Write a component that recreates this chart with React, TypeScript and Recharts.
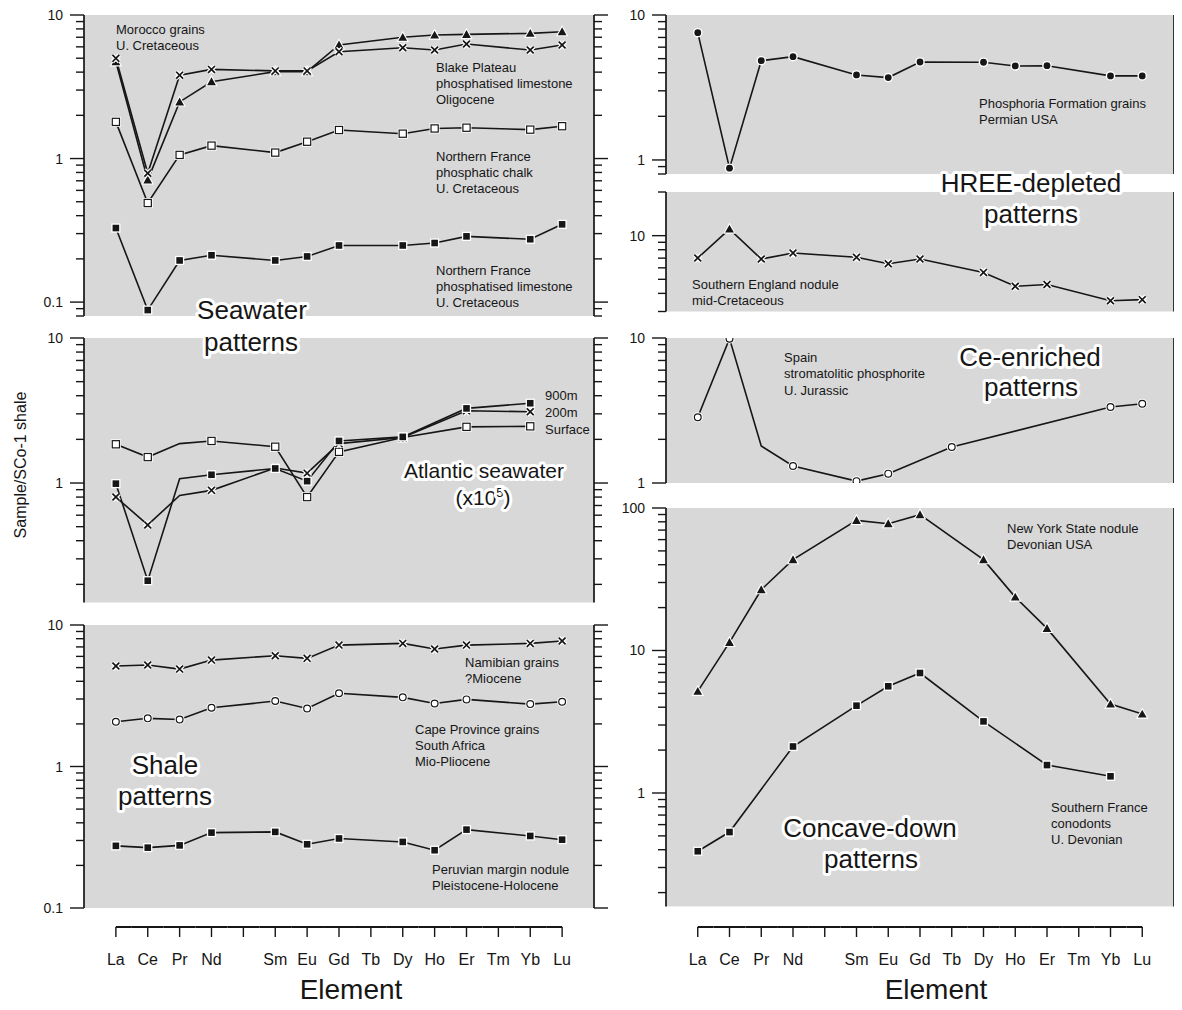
import React from 'react';
import { ComposedChart, Line, XAxis, YAxis, CartesianGrid } from 'recharts';

// ---------- categories ----------
const ELEMENTS = ['La', 'Ce', 'Pr', 'Nd', 'Pm', 'Sm', 'Eu', 'Gd', 'Tb', 'Dy', 'Ho', 'Er', 'Tm', 'Yb', 'Lu'];
const BLANK_TICK = 'Pm';

// ---------- Left column, panel 1 (seawater patterns) ----------
const blakePlateau = [4.72, 0.71, 2.48, 3.43, null, 4.03, 4.03, 6.18, null, 6.99, 7.25, 7.33, null, 7.45, 7.65];
const moroccoGrains = [4.99, 0.79, 3.81, 4.18, null, 4.08, 4.08, 5.55, null, 5.92, 5.7, 6.28, null, 5.7, 6.18];
const nFranceChalk = [1.8, 0.49, 1.06, 1.23, null, 1.1, 1.31, 1.58, null, 1.49, 1.62, 1.64, null, 1.59, 1.68];
const nFranceLimestone = [0.328, 0.088, 0.195, 0.212, null, 0.195, 0.208, 0.248, null, 0.248, 0.258, 0.287, null, 0.274, 0.348];

// ---------- Left column, panel 2 (Atlantic seawater x10^5) ----------
const atlanticSurface = [1.85, 1.51, 1.87, 1.95, null, 1.78, 0.8, 1.64, null, 2.06, null, 2.44, null, 2.46, null];
const atlantic200m = [0.8, 0.514, 0.82, 0.89, null, 1.27, 1.17, 1.87, null, 2.06, null, 3.15, null, 3.1, null];
const atlantic900m = [0.99, 0.212, 1.07, 1.14, null, 1.26, 1.03, 1.95, null, 2.08, null, 3.27, null, 3.55, null];

// ---------- Left column, panel 3 (shale patterns) ----------
const namibianGrains = [5.13, 5.21, 4.88, 5.65, null, 6.07, 5.81, 7.21, null, 7.41, 6.76, 7.21, null, 7.41, 7.71];
const capeProvince = [2.07, 2.19, 2.15, 2.6, null, 2.9, 2.57, 3.29, null, 3.08, 2.79, 2.98, null, 2.76, 2.87];
const peruvianNodule = [0.275, 0.267, 0.277, 0.341, null, 0.345, 0.282, 0.31, null, 0.293, 0.256, 0.358, null, 0.323, 0.304];

// ---------- Right column ----------
const phosphoria = [7.55, 0.877, 4.84, 5.16, null, 3.86, 3.7, 4.74, null, 4.72, 4.45, 4.47, null, 3.8, 3.8];
const southernEngland = [7.01, 11.1, 6.9, 7.59, null, 7.09, 6.41, 6.9, null, 5.58, 4.48, 4.6, null, 3.56, 3.62];
const spainStromatolitic = [2.84, 9.9, 1.8, 1.31, null, 1.03, 1.16, null, 1.77, null, null, null, null, 3.34, 3.52];
const newYorkNodule = [5.17, 11.4, 26.7, 43.4, null, 81.9, 77.6, 89.8, null, 43.4, 23.7, 14.3, null, 4.21, 3.58];
const southernFrance = [0.39, 0.532, null, 2.12, null, 4.1, 5.61, 6.95, null, 3.18, null, 1.57, null, 1.31, null];

// ---------- styling ----------
const FONT = '"Liberation Sans", Arial, Helvetica, sans-serif';
const INK = '#161616';
const PANEL_FILL = '#d8d8d8';

function logTicks(lo: number, hi: number): number[] {
  const out: number[] = [];
  for (let e = Math.floor(Math.log10(lo)) - 1; e <= Math.ceil(Math.log10(hi)); e++) {
    for (let m = 1; m <= 9; m++) {
      const v = Number((m * Math.pow(10, e)).toPrecision(6));
      if (v >= lo - 1e-12 && v <= hi + 1e-12) out.push(v);
    }
  }
  return out;
}
const isMajor = (v: number) => Math.abs(Math.log10(v) - Math.round(Math.log10(v))) < 1e-6;

function YTick(props: any) {
  const { x, y, payload, side } = props;
  const v = payload.value as number;
  const major = isMajor(v);
  const len = major ? 14 : 8;
  const dir = side === 'left' ? -1 : 1;
  return (
    <g>
      <line x1={x} x2={x + dir * len} y1={y} y2={y} stroke={INK} strokeWidth={1.4} />
      {major && side === 'left' ? (
        <text x={x - len - 7} y={y + 5} textAnchor="end" fontSize={14} fontFamily={FONT} fill={INK}>
          {String(v)}
        </text>
      ) : null}
    </g>
  );
}

function XTick(props: any) {
  const { x, y, payload, offset, step } = props;
  const i = payload.value as number;
  const yl = y + offset;
  const last = ELEMENTS.length - 1;
  const name = ELEMENTS[i];
  return (
    <g>
      <line x1={i === 0 ? x : x - step / 2} x2={i === last ? x : x + step / 2} y1={yl} y2={yl} stroke={INK} strokeWidth={2} />
      <line x1={x} x2={x} y1={yl} y2={yl + 10} stroke={INK} strokeWidth={1.4} />
      {name !== BLANK_TICK ? (
        <text x={x} y={yl + 38} textAnchor="middle" fontSize={16} fontFamily={FONT} fill={INK}>
          {name}
        </text>
      ) : null}
    </g>
  );
}

function Marker({ shape, cx, cy }: { shape: string; cx: number; cy: number }) {
  switch (shape) {
    case 'fsquare':
      return (
        <g>
          <rect x={cx - 4.6} y={cy - 4.6} width={9.2} height={9.2} fill="#fff" />
          <rect x={cx - 3.3} y={cy - 3.3} width={6.6} height={6.6} fill={INK} />
        </g>
      );
    case 'osquare':
      return (
        <g>
          <rect x={cx - 5} y={cy - 5} width={10} height={10} fill="#fff" />
          <rect x={cx - 3.6} y={cy - 3.6} width={7.2} height={7.2} fill="#fff" stroke={INK} strokeWidth={1.2} />
        </g>
      );
    case 'triangle': {
      const h = 4.4;
      const pts = `${cx},${cy - h} ${cx + h},${cy + h * 0.8} ${cx - h},${cy + h * 0.8}`;
      return <polygon points={pts} fill={INK} stroke="#fff" strokeWidth={2.2} style={{ paintOrder: 'stroke' }} />;
    }
    case 'x': {
      const s = 3.4;
      const d = `M${cx - s},${cy - s}L${cx + s},${cy + s}M${cx - s},${cy + s}L${cx + s},${cy - s}`;
      return (
        <g>
          <path d={d} stroke="#fff" strokeWidth={4.2} fill="none" />
          <path d={d} stroke={INK} strokeWidth={1.7} fill="none" />
        </g>
      );
    }
    case 'ocircle':
      return (
        <g>
          <circle cx={cx} cy={cy} r={5} fill="#fff" />
          <circle cx={cx} cy={cy} r={3.4} fill="#fff" stroke={INK} strokeWidth={1.2} />
        </g>
      );
    case 'fcircle':
      return (
        <g>
          <circle cx={cx} cy={cy} r={4.8} fill="#fff" />
          <circle cx={cx} cy={cy} r={3.4} fill={INK} />
        </g>
      );
    default:
      return <g />;
  }
}

type SeriesDef = { key: string; values: (number | null)[]; marker: string; overrides?: Record<number, string> };

const makeDot = (s: SeriesDef) => (p: any) => {
  const { cx, cy, index } = p;
  const k = `${s.key}-${index}`;
  const v = s.values[index];
  if (cx == null || cy == null || v == null) return <g key={k} />;
  const shape = (s.overrides && s.overrides[index]) || s.marker;
  return <Marker key={k} shape={shape} cx={cx} cy={cy} />;
};

type PanelProps = {
  plotLeft: number;
  plotTop: number;
  plotW: number;
  plotH: number;
  leftW: number;
  rightW: number;
  domain: [number, number];
  series: SeriesDef[];
  xAxisY?: number;
};

function Panel({ plotLeft, plotTop, plotW, plotH, leftW, rightW, domain, series, xAxisY }: PanelProps) {
  const data = ELEMENTS.map((el, i) => {
    const row: any = { i, el };
    series.forEach((s) => {
      row[s.key] = s.values[i];
    });
    return row;
  });
  const ticks = logTicks(domain[0], domain[1]);
  const mt = 14;
  const showX = xAxisY != null;
  const xOffset = showX ? (xAxisY as number) - (plotTop + plotH) : 0;
  const xH = showX ? xOffset + 50 : 0;
  const mb = showX ? 0 : 10;
  const width = leftW + plotW + rightW;
  const height = mt + plotH + (showX ? xH : mb);
  const step = plotW / (ELEMENTS.length + 1);
  return (
    <div style={{ position: 'absolute', left: plotLeft - leftW, top: plotTop - mt }}>
      <ComposedChart width={width} height={height} data={data} margin={{ top: mt, right: 0, bottom: mb, left: 0 }}>
        <CartesianGrid fill={PANEL_FILL} stroke="none" horizontal={false} vertical={false} />
        <XAxis
          type="number"
          dataKey="i"
          domain={[-1, ELEMENTS.length]}
          ticks={ELEMENTS.map((_, i) => i)}
          interval={0}
          hide={!showX}
          height={xH || 1}
          axisLine={false}
          tickLine={false}
          tickSize={0}
          tickMargin={0}
          allowDataOverflow
          tick={(p: any) => <XTick {...p} offset={xOffset} step={step} />}
        />
        <YAxis
          yAxisId="l"
          orientation="left"
          type="number"
          scale="log"
          domain={domain}
          ticks={ticks}
          interval={0}
          width={leftW}
          allowDataOverflow
          tickSize={0}
          tickMargin={0}
          tickLine={false}
          axisLine={{ stroke: INK, strokeWidth: 1.7 }}
          tick={(p: any) => <YTick {...p} side="left" />}
        />
        <YAxis
          yAxisId="r"
          orientation="right"
          type="number"
          scale="log"
          domain={domain}
          ticks={ticks}
          interval={0}
          width={rightW}
          allowDataOverflow
          tickSize={0}
          tickMargin={0}
          tickLine={false}
          axisLine={{ stroke: INK, strokeWidth: 1.7 }}
          tick={(p: any) => <YTick {...p} side="right" />}
        />
        {series.map((s) => (
          <Line
            key={s.key}
            yAxisId="l"
            type="linear"
            dataKey={s.key}
            stroke={INK}
            strokeWidth={1.6}
            connectNulls
            dot={makeDot(s)}
            activeDot={false}
            isAnimationActive={false}
          />
        ))}
      </ComposedChart>
    </div>
  );
}

// ---------- annotations ----------
type Note = { x: number; y: number; t: React.ReactNode; size?: number; anchor?: 'start' | 'middle' | 'end' };

const smallNotes: Note[] = [
  { x: 116, y: 34, t: 'Morocco grains' },
  { x: 116, y: 50, t: 'U. Cretaceous' },
  { x: 436, y: 72, t: 'Blake Plateau' },
  { x: 436, y: 88, t: 'phosphatised limestone' },
  { x: 436, y: 104, t: 'Oligocene' },
  { x: 436, y: 161, t: 'Northern France' },
  { x: 436, y: 177, t: 'phosphatic chalk' },
  { x: 436, y: 193, t: 'U. Cretaceous' },
  { x: 436, y: 275, t: 'Northern France' },
  { x: 436, y: 291, t: 'phosphatised limestone' },
  { x: 436, y: 307, t: 'U. Cretaceous' },
  { x: 545, y: 400, t: '900m' },
  { x: 545, y: 417, t: '200m' },
  { x: 545, y: 434, t: 'Surface' },
  { x: 465, y: 667, t: 'Namibian grains' },
  { x: 465, y: 683, t: '?Miocene' },
  { x: 415, y: 734, t: 'Cape Province grains' },
  { x: 415, y: 750, t: 'South Africa' },
  { x: 415, y: 766, t: 'Mio-Pliocene' },
  { x: 432, y: 874, t: 'Peruvian margin nodule' },
  { x: 432, y: 890, t: 'Pleistocene-Holocene' },
  { x: 979, y: 108, t: 'Phosphoria Formation grains' },
  { x: 979, y: 124, t: 'Permian USA' },
  { x: 692, y: 289, t: 'Southern England nodule' },
  { x: 692, y: 305, t: 'mid-Cretaceous' },
  { x: 784, y: 362, t: 'Spain' },
  { x: 784, y: 378, t: 'stromatolitic phosphorite' },
  { x: 784, y: 395, t: 'U. Jurassic' },
  { x: 1007, y: 533, t: 'New York State nodule' },
  { x: 1007, y: 549, t: 'Devonian USA' },
  { x: 1051, y: 812, t: 'Southern France' },
  { x: 1051, y: 828, t: 'conodonts' },
  { x: 1051, y: 844, t: 'U. Devonian' },
];

const bigNotes: Note[] = [
  { x: 252, y: 319, t: 'Seawater', size: 26 },
  { x: 251, y: 351, t: 'patterns', size: 26 },
  { x: 484, y: 478, t: 'Atlantic seawater', size: 21 },
  { x: 483, y: 505, t: (<>(x10<tspan fontSize={13} dy={-8}>5</tspan><tspan dy={8}>)</tspan></>), size: 21 },
  { x: 165, y: 774, t: 'Shale', size: 26 },
  { x: 165, y: 805, t: 'patterns', size: 26 },
  { x: 1031, y: 192, t: 'HREE-depleted', size: 26 },
  { x: 1031, y: 223, t: 'patterns', size: 26 },
  { x: 1030, y: 366, t: 'Ce-enriched', size: 26 },
  { x: 1031, y: 396, t: 'patterns', size: 26 },
  { x: 870, y: 837, t: 'Concave-down', size: 26 },
  { x: 871, y: 868, t: 'patterns', size: 26 },
];

function Overlay() {
  return (
    <svg width={1182} height={1010} style={{ position: 'absolute', left: 0, top: 0, pointerEvents: 'none' }}>
      {smallNotes.map((n, i) => (
        <text key={`s${i}`} x={n.x} y={n.y} fontSize={13} fontFamily={FONT} fill={INK} textAnchor={n.anchor || 'start'}>
          {n.t}
        </text>
      ))}
      {bigNotes.map((n, i) => (
        <text
          key={`b${i}`}
          x={n.x}
          y={n.y}
          fontSize={n.size}
          fontFamily={FONT}
          fill={INK}
          textAnchor="middle"
          stroke="#fff"
          strokeWidth={6}
          strokeLinejoin="round"
          style={{ paintOrder: 'stroke' }}
        >
          {n.t}
        </text>
      ))}
      <text
        x={0}
        y={0}
        transform="translate(26,465) rotate(-90)"
        fontSize={16}
        fontFamily={FONT}
        fill={INK}
        textAnchor="middle"
      >
        Sample/SCo-1 shale
      </text>
      <text x={351} y={999} fontSize={28} fontFamily={FONT} fill={INK} textAnchor="middle">
        Element
      </text>
      <text x={936} y={999} fontSize={28} fontFamily={FONT} fill={INK} textAnchor="middle">
        Element
      </text>
    </svg>
  );
}

const L = { plotLeft: 84, plotW: 510, leftW: 84, rightW: 28 };
const R = { plotLeft: 666, plotW: 508, leftW: 66, rightW: 8 };

export default function App() {
  return (
    <div style={{ position: 'relative', width: 1182, height: 1010, margin: -8, overflow: 'hidden', background: '#fff', fontFamily: FONT }}>
      <Panel
        {...L}
        plotTop={15}
        plotH={301}
        domain={[0.08, 10]}
        series={[
          { key: 'blake', values: blakePlateau, marker: 'triangle' },
          { key: 'morocco', values: moroccoGrains, marker: 'x' },
          { key: 'nfChalk', values: nFranceChalk, marker: 'osquare' },
          { key: 'nfLime', values: nFranceLimestone, marker: 'fsquare' },
        ]}
      />
      <Panel
        {...L}
        plotTop={338}
        plotH={264.5}
        domain={[0.15, 10]}
        series={[
          { key: 'surface', values: atlanticSurface, marker: 'osquare', overrides: { 2: 'none' } },
          { key: 'm200', values: atlantic200m, marker: 'x', overrides: { 2: 'none' } },
          { key: 'm900', values: atlantic900m, marker: 'fsquare', overrides: { 2: 'none' } },
        ]}
      />
      <Panel
        {...L}
        plotTop={625}
        plotH={283}
        domain={[0.1, 10]}
        xAxisY={927}
        series={[
          { key: 'namibian', values: namibianGrains, marker: 'x' },
          { key: 'cape', values: capeProvince, marker: 'ocircle' },
          { key: 'peru', values: peruvianNodule, marker: 'fsquare' },
        ]}
      />
      <Panel
        {...R}
        plotTop={15}
        plotH={159}
        domain={[0.8, 10]}
        series={[{ key: 'phosphoria', values: phosphoria, marker: 'fcircle' }]}
      />
      <Panel
        {...R}
        plotTop={192}
        plotH={119.5}
        domain={[3, 20]}
        series={[{ key: 'sEngland', values: southernEngland, marker: 'x', overrides: { 1: 'triangle' } }]}
      />
      <Panel
        {...R}
        plotTop={338}
        plotH={145}
        domain={[1, 10]}
        series={[{ key: 'spain', values: spainStromatolitic, marker: 'ocircle', overrides: { 2: 'none' } }]}
      />
      <Panel
        {...R}
        plotTop={508}
        plotH={398.4}
        domain={[0.16, 100]}
        xAxisY={927}
        series={[
          { key: 'newYork', values: newYorkNodule, marker: 'triangle' },
          { key: 'sFrance', values: southernFrance, marker: 'fsquare' },
        ]}
      />
      <Overlay />
    </div>
  );
}
